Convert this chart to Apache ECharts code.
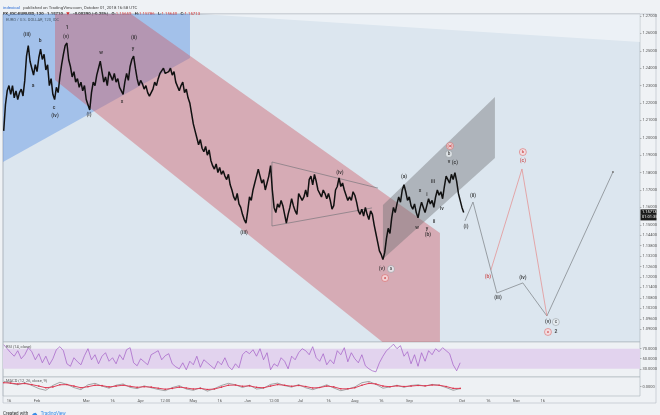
<!DOCTYPE html>
<html><head><meta charset="utf-8">
<script src="https://cdn.jsdelivr.net/npm/echarts@6/dist/echarts.min.js"></script>
<style>html,body{margin:0;padding:0;background:#eff2f5;}#c{width:660px;height:415px;}</style>
</head><body><div id="c"></div>
<script>
// ---- data (x = day of 2018, 0 = Jan 1) ----
const priceStartDay = 12;
const priceValues = [
1.2040,1.2190,1.2270,1.2300,1.2250,1.2300,1.2230,1.2270,
1.2220,1.2260,1.2280,1.2240,1.2330,1.2470,1.2530,1.2440,1.2400,1.2360,
1.2420,1.2380,1.2460,1.2510,1.2450,1.2480,1.2390,1.2420,1.2300,1.2340,
1.2250,1.2220,1.2290,1.2260,1.2350,1.2420,1.2480,1.2530,1.2545,1.2450,
1.2410,1.2350,1.2380,1.2320,1.2340,1.2290,1.2320,1.2270,1.2300,1.2220,
1.2190,1.2160,1.2260,1.2320,1.2300,1.2360,1.2400,1.2440,1.2380,1.2320,
1.2350,1.2300,1.2380,1.2390,1.2330,1.2370,1.2320,1.2340,1.2290,1.2270,
1.2250,1.2320,1.2370,1.2330,1.2410,1.2450,1.2470,1.2400,1.2340,1.2300,
1.2330,1.2310,1.2280,1.2300,1.2260,1.2240,1.2230,1.2280,1.2320,1.2300,
1.2340,1.2370,1.2360,1.2400,1.2370,1.2360,1.2380,1.2400,1.2360,1.2380,
1.2320,1.2330,1.2270,1.2300,1.2320,1.2260,1.2280,1.2230,1.2200,1.2140,
1.2080,1.2040,1.2000,1.1960,1.1990,1.1940,1.1920,1.1950,1.1900,1.1930,
1.1870,1.1840,1.1820,1.1850,1.1800,1.1830,1.1790,1.1810,1.1780,1.1760,
1.1790,1.1730,1.1700,1.1660,1.1640,1.1680,1.1620,1.1600,1.1560,1.1530,
1.1510,1.1580,1.1660,1.1640,1.1700,1.1740,1.1780,1.1820,1.1780,1.1740,
1.1760,1.1700,1.1740,1.1780,1.1840,1.1700,1.1600,1.1570,1.1620,1.1600,
1.1640,1.1610,1.1560,1.1510,1.1560,1.1600,1.1650,1.1610,1.1580,1.1560,
1.1680,1.1690,1.1640,1.1660,1.1700,1.1660,1.1760,1.1780,1.1730,1.1790,
1.1750,1.1700,1.1710,1.1660,1.1700,1.1680,1.1650,1.1680,1.1640,1.1590,
1.1610,1.1700,1.1720,1.1770,1.1720,1.1740,1.1700,1.1700,1.1640,1.1660,
1.1640,1.1690,1.1670,1.1630,1.1580,1.1560,1.1590,1.1550,1.1600,1.1560,
1.1530,1.1580,1.1560,1.1500,1.1450,1.1400,1.1350,1.1330,1.1300,1.1340,
1.1420,1.1480,1.1450,1.1540,1.1600,1.1570,1.1620,1.1660,1.1630,1.1700,
1.1730,1.1690,1.1640,1.1660,1.1610,1.1590,1.1620,1.1570,1.1540,1.1590,
1.1630,1.1600,1.1570,1.1610,1.1650,1.1620,1.1640,1.1600,1.1660,1.1700,
1.1670,1.1690,1.1650,1.1720,1.1780,1.1760,1.1740,1.1790,1.1760,1.1800,
1.1750,1.1680,1.1640,1.1600,1.1571
];
const lastPrice = 1.15713;

const rsiStartDay = 12, rsiStep = 2;
const rsiValues = [
78,70,62,55,66,50,58,72,64,48,60,42,55,38,50,
68,74,66,40,35,52,44,38,56,70,48,58,40,55,62,
45,52,40,58,48,68,72,42,36,50,44,38,58,62,66,
48,56,60,40,34,30,42,28,45,38,55,33,48,42,36,
30,45,38,52,35,28,40,32,58,65,60,68,55,70,48,
62,28,40,35,52,45,30,55,48,62,70,66,58,74,52,
45,60,38,48,40,66,58,72,44,62,50,42,58,36,30,
26,24,42,55,66,72,79,70,76,55,64,40,58,35,62,
45,66,58,70,64,72,66,60,38,26,42
];
const rsiTicks = [70, 50, 30];

const macdStartDay = 12, macdStep = 4;
const macdValues = [
2.5,1.5,0.8,1.8,0.5,-1.0,-1.8,0.5,2.0,1.0,
-0.5,-1.5,0.8,1.5,0.2,-0.8,0.6,1.2,-0.4,-1.0,
0.3,-0.6,-1.4,-2.0,-0.5,0.4,-1.2,-1.8,-0.6,-2.2,
-1.0,0.5,1.5,0.8,-0.5,0.6,-1.2,-0.8,1.0,1.6,
0.4,-0.3,0.9,-0.6,-1.5,-0.4,0.8,-0.7,-2.0,-1.2,
-0.2,1.8,2.4,1.0,-0.8,-0.2,0.6,-0.4,0.5,0.8,
0.2,1.0,0.6,-0.5,-1.8,-1.0
];
const signalValues = [
1.8,1.6,1.2,1.4,0.9,0.2,-0.6,-0.2,0.8,0.9,
0.2,-0.6,-0.1,0.6,0.4,-0.2,0.2,0.6,0.1,-0.4,
-0.1,-0.3,-0.8,-1.3,-0.9,-0.3,-0.7,-1.2,-0.9,-1.4,
-1.2,-0.3,0.6,0.7,0.1,0.3,-0.4,-0.6,0.2,0.9,
0.6,0.1,0.5,0.0,-0.7,-0.5,0.2,-0.2,-1.1,-1.1,
-0.6,0.6,1.5,1.2,0.2,-0.1,0.3,0.0,0.2,0.5,
0.3,0.7,0.6,0.0,-0.9,-0.9
];

const xTickDays   = [15,31,59,74,90,104,120,135,151,166,181,197,212,227,243,273,288,304,319];
const xTickLabels = ['16','Feb','Mar','16','Apr','12:00','May','16','Jun','12:00','Jul','16','Aug','16','Sep','Oct','16','Nov','16'];
const yTickValues = [1.27,1.26,1.25,1.24,1.23,1.22,1.21,1.20,1.19,1.18,1.17,1.16,
  1.15,1.144,1.138,1.132,1.126,1.12,1.114,1.108,1.102,1.096,1.09];

// projected paths
const grayPath = [[274.7,1.1522],[279.3,1.1631],[292.9,1.1108],[307.7,1.1166],[321.4,1.0976],[359.0,1.1803]];
const redPath  = [[289.5,1.1240],[307.2,1.1821],[321.4,1.0976]];

// drawn zones (day, price)
const topZone   = [[123.8,1.27115],[374.4,1.27115],[374.4,1.25506]];
const blueZone  = [[11.6,1.27115],[118.1,1.27115],[118.1,1.24586],[11.6,1.18609]];
const pinkZone  = [[41.23,1.27115],[84.51,1.27115],[260.48,1.14529],[260.48,1.08264],[227.73,1.08264],[41.23,1.23322]];
const grayZone  = [[228.02,1.16138],[291.8,1.22345],[291.8,1.18839],[228.02,1.13034]];
const triangleLines = [
  [[164.8,1.1861],[225.2,1.1711]],
  [[164.8,1.1493],[221.8,1.1597]],
  [[164.8,1.1861],[164.8,1.1493]]
];

// wave labels [text, day, price]
const blackLabels = [
  ['(iii)',25.3,1.2591],['b',32.7,1.2556],['a',28.7,1.2298],['c',40.7,1.2171],['(iv)',41.2,1.2125],
  ['1',48.1,1.2631],['(v)',47.5,1.2579],['(i)',60.6,1.2131],['w',67.4,1.2487],['x',79.4,1.2206],
  ['y',85.6,1.2510],['(ii)',86.2,1.2574],['(iii)',148.9,1.1453],['(iv)',203.5,1.1798],['(v)',227.4,1.1246],
  ['(a)',240.0,1.1775],['x',249.1,1.1694],['i',253.1,1.1671],['iii',256.5,1.1746],['w',247.4,1.1482],
  ['y',253.1,1.1476],['(b)',253.6,1.1441],['ii',257.1,1.1516],['iv',261.6,1.1591],['v',265.6,1.1861],
  ['(c)',269.0,1.1855],['(i)',275.3,1.1487],['(ii)',279.3,1.1666],['(iii)',293.5,1.1079],['(iv)',307.7,1.1194],
  ['(v)',322.0,1.0941],['2',326.5,1.0884]
];
const redLabels = [['(b)',287.8,1.1200],['(c)',307.7,1.1867]];
const grayCircles = [['a',232.6,1.1246],['b',265.6,1.1907],['c',326.5,1.0941]];
const redCircles  = [['a',229.2,1.1194],['(a)',266.2,1.1953],['b',307.7,1.1918],['c',322.0,1.0884]];

// ---- chart ----
const FONT = 'Roboto, "DejaVu Sans", sans-serif';
const zones = [
  {pts: topZone,  fill: 'rgba(255,255,255,0.45)'},
  {pts: blueZone, fill: 'rgba(100,150,230,0.47)'},
  {pts: pinkZone, fill: 'rgba(205,90,100,0.42)'},
  {pts: grayZone, fill: 'rgba(110,112,115,0.42)'}
];
const XMIN = 11.6, XMAX = 374.4;
const chart = echarts.init(document.getElementById('c'), null, {renderer: 'canvas'});

function mkX(gi, showLabels) {
  return {
    type: 'value', gridIndex: gi, min: XMIN, max: XMAX,
    axisLine: {show: false}, axisTick: {show: false}, splitLine: {show: false},
    axisLabel: showLabels ? {
      show: true, customValues: xTickDays, fontSize: 4, color: '#555', margin: 2.5, fontFamily: FONT,
      formatter: v => xTickLabels[xTickDays.indexOf(v)]
    } : {show: false}
  };
}
const labelItems = (arr) => arr.map(a => ({name: a[0], value: [a[1], a[2]]}));

const option = {
  animation: false,
  backgroundColor: '#eff2f5',
  grid: [
    {left: 3, top: 14, width: 637, height: 328, show: true, backgroundColor: '#dce6ef', borderColor: '#a8b1b9', borderWidth: 0.6},
    {left: 3, top: 342, width: 637, height: 35, show: true, backgroundColor: '#eef1f4', borderColor: '#a8b1b9', borderWidth: 0.6},
    {left: 3, top: 377, width: 637, height: 19, show: true, backgroundColor: '#eef1f4', borderColor: '#a8b1b9', borderWidth: 0.6}
  ],
  xAxis: [mkX(0, false), mkX(1, false), mkX(2, true)],
  yAxis: [
    {type: 'value', gridIndex: 0, position: 'right', min: 1.08264, max: 1.27115,
     axisLine: {show: false}, splitLine: {show: false},
     axisTick: {show: true, customValues: yTickValues, length: 1.5, lineStyle: {color: '#777', width: 0.5}},
     axisLabel: {customValues: yTickValues, formatter: v => v.toFixed(5), fontSize: 4, color: '#555', margin: 2.5, fontFamily: FONT}},
    {type: 'value', gridIndex: 1, position: 'right', min: 13.7, max: 83.3,
     axisLine: {show: false}, splitLine: {show: false},
     axisTick: {show: true, customValues: rsiTicks, length: 1.5, lineStyle: {color: '#777', width: 0.5}},
     axisLabel: {customValues: rsiTicks, formatter: v => v.toFixed(4), fontSize: 4, color: '#555', margin: 2.5, fontFamily: FONT}},
    {type: 'value', gridIndex: 2, position: 'right', min: -4.5, max: 4.5,
     axisLine: {show: false}, splitLine: {show: false},
     axisTick: {show: true, customValues: [0], length: 1.5, lineStyle: {color: '#777', width: 0.5}},
     axisLabel: {customValues: [0], formatter: () => '0.0000', fontSize: 4, color: '#555', margin: 2.5, fontFamily: FONT}}
  ],
  series: [
    {type: 'custom', xAxisIndex: 0, yAxisIndex: 0, silent: true, clip: true, z: 1,
     data: zones.map(z => z.pts[0]),
     renderItem: (params, api) => {
       const z = zones[params.dataIndex];
       return {type: 'polygon', shape: {points: z.pts.map(p => api.coord(p))}, style: {fill: z.fill}};
     }},
    ...triangleLines.map(l => ({type: 'line', xAxisIndex: 0, yAxisIndex: 0, data: l, symbol: 'none', silent: true, z: 2,
      lineStyle: {color: '#6b6f73', width: 0.6}})),
    {type: 'line', xAxisIndex: 0, yAxisIndex: 0, symbol: 'none', z: 3, silent: true,
     data: priceValues.map((v, i) => [priceStartDay + i, v]),
     lineStyle: {color: '#111', width: 1.5}},
    {type: 'line', xAxisIndex: 0, yAxisIndex: 0, z: 3, silent: true, data: grayPath,
     symbol: (v, p) => p.dataIndex === grayPath.length - 1 ? 'circle' : 'none', symbolSize: 2,
     itemStyle: {color: '#777'}, lineStyle: {color: '#7a7e82', width: 0.7}},
    {type: 'line', xAxisIndex: 0, yAxisIndex: 0, symbol: 'none', z: 3, silent: true, data: redPath,
     lineStyle: {color: '#e58a8a', width: 0.7}},
    {type: 'scatter', xAxisIndex: 0, yAxisIndex: 0, z: 5, silent: true, symbolSize: 0.1,
     itemStyle: {color: 'rgba(0,0,0,0)'}, data: labelItems(blackLabels),
     label: {show: true, position: 'inside', formatter: '{b}', fontSize: 5, fontWeight: 'bold', color: '#222', fontFamily: FONT}},
    {type: 'scatter', xAxisIndex: 0, yAxisIndex: 0, z: 5, silent: true, symbolSize: 0.1,
     itemStyle: {color: 'rgba(0,0,0,0)'}, data: labelItems(redLabels),
     label: {show: true, position: 'inside', formatter: '{b}', fontSize: 5, fontWeight: 'bold', color: '#c93838', fontFamily: FONT}},
    {type: 'scatter', xAxisIndex: 0, yAxisIndex: 0, z: 5, silent: true, symbol: 'circle', symbolSize: 7,
     itemStyle: {color: '#e9edf1', borderColor: '#8a8f94', borderWidth: 0.6}, data: labelItems(grayCircles),
     label: {show: true, position: 'inside', formatter: '{b}', fontSize: 4.5, fontWeight: 'bold', color: '#444', fontFamily: FONT}},
    {type: 'scatter', xAxisIndex: 0, yAxisIndex: 0, z: 5, silent: true, symbol: 'circle', symbolSize: 7,
     itemStyle: {color: '#f7d9dc', borderColor: '#d65050', borderWidth: 0.6}, data: labelItems(redCircles),
     label: {show: true, position: 'inside', formatter: '{b}', fontSize: 4, fontWeight: 'bold', color: '#c93030', fontFamily: FONT}},
    {type: 'line', xAxisIndex: 1, yAxisIndex: 1, symbol: 'none', silent: true,
     data: rsiValues.map((v, i) => [rsiStartDay + i * rsiStep, v]),
     lineStyle: {color: '#a25bc6', width: 0.7},
     markArea: {silent: true, itemStyle: {color: '#e2d3ee'}, data: [[{yAxis: 30}, {yAxis: 70}]]}},
    {type: 'line', xAxisIndex: 2, yAxisIndex: 2, symbol: 'none', silent: true,
     data: macdValues.map((v, i) => [macdStartDay + i * macdStep, v]),
     lineStyle: {color: '#555', width: 0.5}},
    {type: 'line', xAxisIndex: 2, yAxisIndex: 2, symbol: 'circle', symbolSize: 1.6, silent: true,
     data: signalValues.map((v, i) => [macdStartDay + i * macdStep, v]),
     itemStyle: {color: '#d9344a'}, lineStyle: {color: '#e0405a', width: 1}}
  ],
  graphic: [
    {type: 'rect', shape: {x: 3, y: 14, width: 653, height: 389}, style: {fill: 'none', stroke: '#b2bac2', lineWidth: 0.6}, silent: true},
    {type: 'text', left: 3, top: 2, silent: true, style: {
      text: '{a|indexical} {b|published on TradingView.com, October 01, 2018 16:58 UTC}',
      rich: {a: {fill: '#2f6fd6', fontSize: 4.3, fontFamily: FONT}, b: {fill: '#444', fontSize: 4.3, fontFamily: FONT}}}},
    {type: 'text', left: 3, top: 8, silent: true, style: {
      text: '{k|FX_IDC:EURUSD, 120} {k|1.15710} {r|▼} {k|-0.00290 (-0.25%)} {k|O:}{r|1.15659} {k|H:}{r|1.15786} {k|L:}{r|1.15640} {k|C:}{r|1.15713}',
      rich: {k: {fill: '#333', fontSize: 4.3, fontWeight: 'bold', fontFamily: FONT}, r: {fill: '#d32f2f', fontSize: 4.3, fontFamily: FONT}}}},
    {type: 'text', left: 6, top: 18, silent: true, z: 10, style: {text: 'EURO / U.S. DOLLAR, 120, IDC', fill: '#4a5a6a', fontSize: 4, fontFamily: FONT}},
    {type: 'text', left: 6, top: 344.5, silent: true, z: 10, style: {text: 'RSI (14, close)', fill: '#555', fontSize: 4, fontFamily: FONT}},
    {type: 'text', left: 6, top: 378.5, silent: true, z: 10, style: {text: 'MACD (12, 26, close, 9)', fill: '#555', fontSize: 4, fontFamily: FONT}},
    {type: 'text', left: 3, top: 407.5, silent: true, style: {
      text: '{g|Created with} {i|☁} {b|TradingView}',
      rich: {g: {fill: '#333', fontSize: 4.5, fontFamily: FONT}, i: {fill: '#3a8ee6', fontSize: 6, fontFamily: FONT}, b: {fill: '#3a8ee6', fontSize: 4.5, fontFamily: FONT}}}}
  ]
};
chart.setOption(option);

// price badges on the right axis
const by = chart.convertToPixel({yAxisIndex: 0}, lastPrice);
chart.setOption({graphic: option.graphic.concat([
  {type: 'rect', shape: {x: 640.5, y: by - 3, width: 16, height: 5.5}, style: {fill: '#1a1a1a'}, silent: true, z: 20},
  {type: 'text', x: 642, y: by - 2.5, silent: true, z: 21, style: {text: lastPrice.toFixed(5), fill: '#fff', fontSize: 4, fontFamily: FONT}},
  {type: 'rect', shape: {x: 640.5, y: by + 2.5, width: 16, height: 5.5}, style: {fill: '#1a1a1a'}, silent: true, z: 20},
  {type: 'text', x: 642, y: by + 3, silent: true, z: 21, style: {text: '01:01:35', fill: '#fff', fontSize: 4, fontFamily: FONT}}
])}, {replaceMerge: ['graphic']});
</script>
</body></html>
